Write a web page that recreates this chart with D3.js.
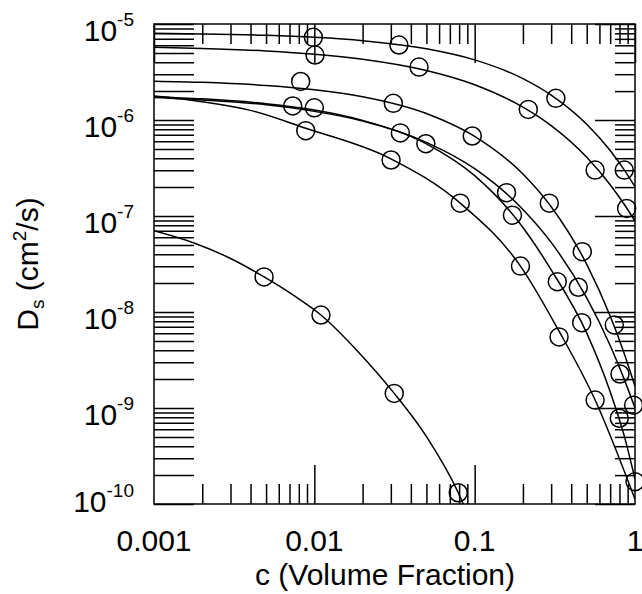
<!DOCTYPE html>
<html>
<head>
<meta charset="utf-8">
<script src="https://cdn.jsdelivr.net/npm/d3@7"></script>
<style>
  html, body { margin: 0; padding: 0; background: #fff; }
  svg { display: block; }
  text { font-family: "Liberation Sans", Arial, Helvetica, sans-serif; fill: #000; }
</style>
</head>
<body>
<svg id="chart" width="642" height="594"></svg>
<script>
// Self-diffusion coefficient Ds versus volume fraction c, seven probe series.

// Axis ticks and labels
const xMajorTicks = [0.001, 0.01, 0.1, 1];
const xTickLabels = ["0.001", "0.01", "0.1", "1"];
const yMajorTicks = [1e-10, 1e-9, 1e-8, 1e-7, 1e-6, 1e-5];
const yTickExponents = ["-10", "-9", "-8", "-7", "-6", "-5"];

// Measured points (c, Ds in cm^2/s) per series
const cA = [0.00986, 0.0337, 0.321, 0.857];
const dA = [7.26e-6, 6.04e-6, 1.68e-6, 3.01e-7];
const cB = [0.0101, 0.045, 0.216, 0.564, 0.887];
const dB = [4.75e-6, 3.56e-6, 1.29e-6, 3.01e-7, 1.20e-7];
const cC = [0.00822, 0.0311, 0.0966, 0.292, 0.469, 0.743];
const dC = [2.52e-6, 1.49e-6, 6.81e-7, 1.36e-7, 4.25e-8, 7.33e-9];
const cD = [0.00733, 0.0344, 0.158, 0.443, 0.806, 0.98];
const dD = [1.40e-6, 7.33e-7, 1.75e-7, 1.81e-8, 2.26e-9, 1.07e-9];
const cE = [0.01, 0.0496, 0.172, 0.3275, 0.465, 0.798, 1.0];
const dE = [1.34e-6, 5.66e-7, 1.02e-7, 2.07e-8, 7.74e-9, 7.82e-10, 1.71e-10];
const cF = [0.00884, 0.0301, 0.0813, 0.193, 0.336, 0.564];
const dF = [7.74e-7, 3.83e-7, 1.36e-7, 3.01e-8, 5.50e-9, 1.21e-9];
const cG = [0.00486, 0.0110, 0.0315, 0.079];
const dG = [2.32e-8, 9.3e-9, 1.42e-9, 1.31e-10];

// Fitted curves (c, Ds) per series
const fitC = [0.001, 0.002, 0.005, 0.01, 0.02, 0.05, 0.1, 0.2, 0.3, 0.5, 0.7, 0.85, 1];
const fitA = [8.0e-6, 7.89e-6, 7.62e-6, 7.26e-6, 6.71e-6, 5.52e-6, 4.23e-6, 2.70e-6, 1.82e-6, 9.04e-7, 4.81e-7, 3.08e-7, 2.02e-7];
const fitB = [5.71e-6, 5.57e-6, 5.24e-6, 4.85e-6, 4.30e-6, 3.28e-6, 2.33e-6, 1.36e-6, 8.73e-7, 4.09e-7, 2.12e-7, 1.35e-7, 8.87e-8];
const fitCc = [2.54e-6, 2.47e-6, 2.29e-6, 2.07e-6, 1.75e-6, 1.17e-6, 6.76e-7, 2.74e-7, 1.25e-7, 3.14e-8, 9.10e-9, 3.84e-9, 1.68e-9];
const fitD = [1.72e-6, 1.62e-6, 1.44e-6, 1.23e-6, 9.77e-7, 5.85e-7, 3.11e-7, 1.17e-7, 5.31e-8, 1.40e-8, 4.48e-9, 2.06e-9, 1.00e-9];
const fitE = [1.75e-6, 1.66e-6, 1.48e-6, 1.27e-6, 9.91e-7, 5.64e-7, 2.63e-7, 7.59e-8, 2.75e-8, 6.03e-9, 1.48e-9, 5.37e-10, 1.82e-10];
const fitFc = [0.001, 0.002, 0.004, 0.00885, 0.0296, 0.0813, 0.193, 0.336, 0.564, 1];
const fitF = [1.78e-6, 1.55e-6, 1.26e-6, 8.20e-7, 3.99e-7, 1.36e-7, 3.01e-8, 6.31e-9, 1.21e-9, 1.12e-10];
const fitGc = [0.001, 0.00176, 0.00298, 0.00486, 0.00739, 0.011, 0.01837, 0.0315, 0.0502, 0.079, 0.0849];
const fitG = [7.03e-8, 5.27e-8, 3.63e-8, 2.32e-8, 1.50e-8, 9.3e-9, 4.0e-9, 1.42e-9, 5.0e-10, 1.31e-10, 1.0e-10];

const pointSets = [[cA, dA], [cB, dB], [cC, dC], [cD, dD], [cE, dE], [cF, dF], [cG, dG]];
const fitSets = [[fitC, fitA], [fitC, fitB], [fitC, fitCc], [fitC, fitD], [fitC, fitE], [fitFc, fitF], [fitGc, fitG]];

const plotL = 154, plotR = 635, plotT = 24, plotB = 504;
const x = d3.scaleLog().domain([0.001, 1]).range([plotL, plotR]);
const y = d3.scaleLog().domain([1e-10, 1e-5]).range([plotB, plotT]);

const svg = d3.select("#chart");
const sw = 1.5;

// Minor tick values: 2..9 within each decade
function minorTicks(domain) {
  const out = [];
  const lo = Math.round(Math.log10(domain[0])), hi = Math.round(Math.log10(domain[1]));
  for (let e = lo; e < hi; e++) for (let m = 2; m <= 9; m++) out.push(m * Math.pow(10, e));
  return out;
}
const xMinor = minorTicks(x.domain());
const yMinor = minorTicks(y.domain());

function tickAxis(axisFn, scale, values, size, tx, ty) {
  const g = svg.append("g")
    .attr("transform", `translate(${tx},${ty})`)
    .call(axisFn(scale).tickValues(values).tickSize(size).tickSizeOuter(0).tickFormat(""));
  g.select(".domain").remove();
  g.selectAll("line").attr("stroke", "#000").attr("stroke-width", sw);
  return g;
}

// Bottom axis: ticks point up into the plot
tickAxis(d3.axisBottom, x, xMinor, -20, 0, plotB);
tickAxis(d3.axisBottom, x, xMajorTicks.slice(1, -1), -39, 0, plotB);
// Top axis: ticks point down
tickAxis(d3.axisTop, x, xMinor, -20, 0, plotT);
tickAxis(d3.axisTop, x, xMajorTicks, -39, 0, plotT);
// Left axis: long ticks throughout
tickAxis(d3.axisLeft, y, yMinor.concat(yMajorTicks), -40, plotL, 0);
// Right axis
tickAxis(d3.axisRight, y, yMinor, -20, plotR, 0);
tickAxis(d3.axisRight, y, yMajorTicks, -40, plotR, 0);

// Frame
svg.append("rect")
  .attr("x", plotL).attr("y", plotT)
  .attr("width", plotR - plotL).attr("height", plotB - plotT)
  .attr("fill", "none").attr("stroke", "#000").attr("stroke-width", sw);

// Clip for curves
svg.append("clipPath").attr("id", "plotClip")
  .append("rect").attr("x", plotL).attr("y", plotT)
  .attr("width", plotR - plotL).attr("height", plotB - plotT);

const line = d3.line()
  .x(d => x(d[0]))
  .y(d => y(d[1]))
  .curve(d3.curveMonotoneX);

const curves = svg.append("g").attr("clip-path", "url(#plotClip)");
fitSets.forEach(([cs, ds]) => {
  curves.append("path")
    .datum(cs.map((c, i) => [c, ds[i]]))
    .attr("d", line)
    .attr("fill", "none")
    .attr("stroke", "#000")
    .attr("stroke-width", sw);
});

// Data points as open circles
const pts = svg.append("g");
pointSets.forEach(([cs, ds]) => {
  pts.append("g").selectAll("circle")
    .data(cs.map((c, i) => [c, ds[i]]))
    .join("circle")
    .attr("cx", d => x(d[0]))
    .attr("cy", d => y(d[1]))
    .attr("r", 9)
    .attr("fill", "none")
    .attr("stroke", "#000")
    .attr("stroke-width", sw);
});

// X tick labels
svg.append("g").selectAll("text")
  .data(xMajorTicks)
  .join("text")
  .attr("x", d => x(d))
  .attr("y", 551)
  .attr("text-anchor", "middle")
  .attr("font-size", 30)
  .text((d, i) => xTickLabels[i]);

// Y tick labels: 10 with superscript exponent
const yl = svg.append("g").selectAll("text")
  .data(yMajorTicks)
  .join("text")
  .attr("x", 134)
  .attr("y", (d, i) => y(d) + (i === 0 ? 8 : 17))
  .attr("text-anchor", "end")
  .attr("font-size", 30);
yl.append("tspan").text("10");
yl.append("tspan").attr("dy", -15).attr("font-size", 19).text((d, i) => yTickExponents[i]);

// Axis titles
svg.append("text")
  .attr("x", 385).attr("y", 585)
  .attr("text-anchor", "middle")
  .attr("font-size", 30)
  .text("c (Volume Fraction)");

const yt = svg.append("text")
  .attr("transform", `translate(38,${(plotT + plotB) / 2}) rotate(-90)`)
  .attr("text-anchor", "middle")
  .attr("font-size", 30);
yt.append("tspan").text("D");
yt.append("tspan").attr("font-size", 19).attr("dy", 6).text("s");
yt.append("tspan").attr("dy", -6).text(" (cm");
yt.append("tspan").attr("font-size", 19).attr("dy", -12).text("2");
yt.append("tspan").attr("dy", 12).text("/s)");
</script>
</body>
</html>
